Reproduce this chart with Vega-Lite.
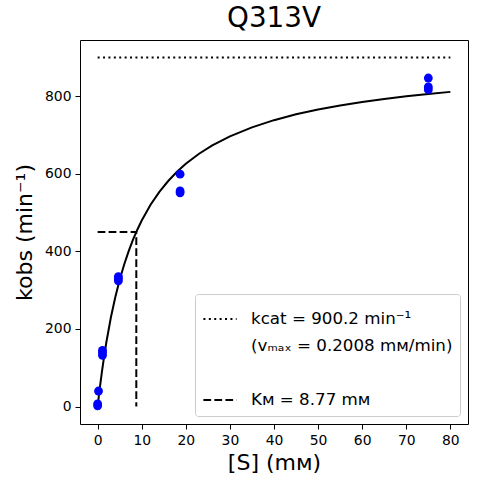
{
  "$schema": "https://vega.github.io/schema/vega-lite/v6.json",
  "description": "Michaelis-Menten fit for Q313V",
  "width": 388,
  "height": 384,
  "autosize": {"type": "none"},
  "padding": {"left": 80, "top": 40, "right": 9, "bottom": 60},
  "background": "white",
  "title": {
    "text": "Q313V",
    "font": "DejaVu Sans",
    "fontSize": 27.8,
    "fontWeight": "normal",
    "color": "black",
    "anchor": "middle",
    "offset": 7
  },
  "datasets": {
    "obs": [
      {"S": 0, "k": 2},
      {"S": 0, "k": 7},
      {"S": 0.2, "k": 40},
      {"S": 1.1, "k": 132},
      {"S": 1.1, "k": 139},
      {"S": 1.1, "k": 145},
      {"S": 4.7, "k": 324},
      {"S": 4.7, "k": 330},
      {"S": 4.7, "k": 335},
      {"S": 18.7, "k": 551},
      {"S": 18.7, "k": 556},
      {"S": 18.7, "k": 599},
      {"S": 75, "k": 817},
      {"S": 75, "k": 824},
      {"S": 75, "k": 847}
    ],
    "fit": [
      {"S": 0, "k": 0},
      {"S": 0.25, "k": 24.95},
      {"S": 0.5, "k": 48.55},
      {"S": 1, "k": 92.14},
      {"S": 1.5, "k": 131.48},
      {"S": 2, "k": 167.17},
      {"S": 3, "k": 229.45},
      {"S": 4, "k": 281.97},
      {"S": 5, "k": 326.87},
      {"S": 6, "k": 365.69},
      {"S": 7, "k": 399.58},
      {"S": 8, "k": 429.43},
      {"S": 9, "k": 455.93},
      {"S": 10, "k": 479.6},
      {"S": 12, "k": 520.1},
      {"S": 14, "k": 553.48},
      {"S": 16, "k": 581.48},
      {"S": 18, "k": 605.29},
      {"S": 20, "k": 625.79},
      {"S": 23, "k": 651.71},
      {"S": 26, "k": 673.14},
      {"S": 30, "k": 696.56},
      {"S": 35, "k": 719.83},
      {"S": 40, "k": 738.34},
      {"S": 45, "k": 753.38},
      {"S": 50, "k": 765.87},
      {"S": 55, "k": 776.4},
      {"S": 60, "k": 785.4},
      {"S": 65, "k": 793.18},
      {"S": 70, "k": 799.97},
      {"S": 75, "k": 805.96},
      {"S": 80, "k": 811.27}
    ],
    "guides": [
      {"S": 0, "k": 900.2, "lab": "kcat = 900.2 min⁻¹", "ord": 1},
      {"S": 80, "k": 900.2, "lab": "kcat = 900.2 min⁻¹", "ord": 2},
      {"S": 0, "k": 450.1, "lab": "Kᴍ = 8.77 mᴍ", "ord": 1},
      {"S": 8.77, "k": 450.1, "lab": "Kᴍ = 8.77 mᴍ", "ord": 2},
      {"S": 8.77, "k": 0, "lab": "Kᴍ = 8.77 mᴍ", "ord": 3}
    ]
  },
  "encoding": {
    "x": {
      "field": "S",
      "type": "quantitative",
      "scale": {"domain": [-4, 84], "nice": false, "zero": false},
      "axis": {"values": [0, 10, 20, 30, 40, 50, 60, 70, 80], "title": "[S] (mᴍ)"}
    },
    "y": {
      "field": "k",
      "type": "quantitative",
      "scale": {"domain": [-45, 945], "nice": false, "zero": false},
      "axis": {"values": [0, 200, 400, 600, 800], "title": "kobs (min⁻¹)"}
    }
  },
  "layer": [
    {
      "data": {"name": "guides"},
      "mark": {"type": "line", "strokeWidth": 2, "strokeCap": "butt"},
      "encoding": {
        "order": {"field": "ord", "type": "quantitative"},
        "strokeDash": {
          "field": "lab",
          "type": "nominal",
          "scale": {
            "domain": ["kcat = 900.2 min⁻¹", "(vₘₐₓ = 0.2008 mᴍ/min)", " ", "Kᴍ = 8.77 mᴍ"],
            "range": [[2, 3.4], [1, 0], [1, 0], [7.7, 3.3]]
          },
          "legend": {"title": null}
        },
        "stroke": {
          "field": "lab",
          "type": "nominal",
          "scale": {
            "domain": ["kcat = 900.2 min⁻¹", "(vₘₐₓ = 0.2008 mᴍ/min)", " ", "Kᴍ = 8.77 mᴍ"],
            "range": ["black", "transparent", "transparent", "black"]
          },
          "legend": {"title": null}
        }
      }
    },
    {
      "data": {"name": "fit"},
      "mark": {"type": "line", "color": "black", "strokeWidth": 2}
    },
    {
      "data": {"name": "obs"},
      "mark": {"type": "point", "shape": "circle", "filled": true, "color": "blue", "opacity": 1, "size": 78}
    }
  ],
  "config": {
    "font": "DejaVu Sans",
    "view": {"stroke": "black", "strokeWidth": 1},
    "axis": {
      "domain": false,
      "grid": false,
      "ticks": true,
      "tickColor": "black",
      "tickSize": 5,
      "labelFont": "DejaVu Sans",
      "labelFontSize": 13.9,
      "labelColor": "black",
      "labelPadding": 4,
      "titleFont": "DejaVu Sans",
      "titleFontSize": 22,
      "titleFontWeight": "normal",
      "titleColor": "black"
    },
    "axisX": {"titlePadding": 6},
    "axisY": {"titlePadding": 8},
    "legend": {
      "orient": "bottom-right",
      "offset": 8,
      "padding": 7,
      "fillColor": "white",
      "strokeColor": "#cccccc",
      "cornerRadius": 3,
      "labelFont": "DejaVu Sans",
      "labelFontSize": 16.7,
      "labelColor": "black",
      "labelLimit": 400,
      "labelOffset": 13,
      "symbolType": "stroke",
      "symbolSize": 1100,
      "symbolStrokeWidth": 2,
      "rowPadding": 0
    }
  }
}
